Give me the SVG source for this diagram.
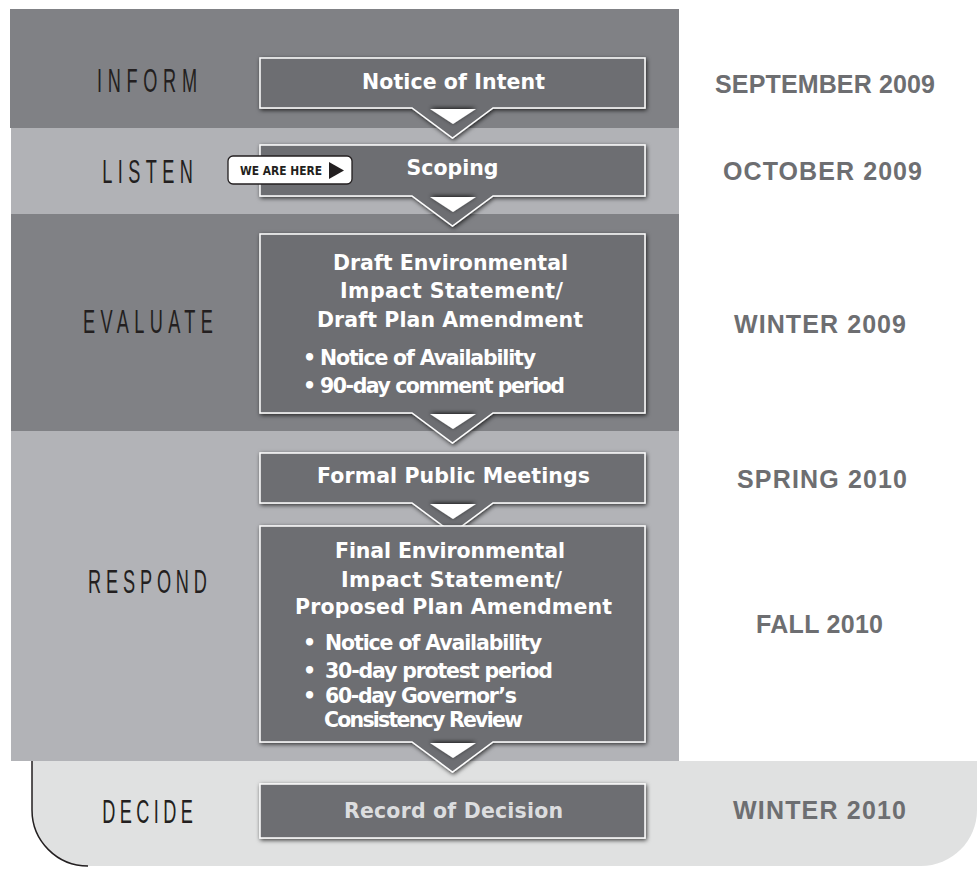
<svg xmlns="http://www.w3.org/2000/svg" width="980" height="869" viewBox="0 0 980 869">
<defs>
<filter id="sh" x="-10%" y="-20%" width="120%" height="140%">
<feDropShadow dx="1" dy="1.5" stdDeviation="2" flood-color="#000" flood-opacity="0.75"/>
</filter>
<filter id="sh2" x="-30%" y="-60%" width="160%" height="220%">
<feDropShadow dx="0" dy="-1" stdDeviation="2" flood-color="#000" flood-opacity="0.8"/>
</filter>
<style>
.stage{font-family:"Liberation Sans",Arial,sans-serif;font-size:33px;fill:#231f20;}
.date{font-family:"Liberation Sans",Arial,sans-serif;font-weight:bold;font-size:25px;fill:#6d6e71;text-anchor:middle;}
.box{fill:#6d6e72;stroke:#fff;stroke-width:1.5;filter:url(#sh);}
.t{font-family:"DejaVu Sans","Liberation Sans",sans-serif;font-weight:bold;font-size:20.5px;fill:#fff;}
.m{text-anchor:middle;}
.tri{fill:#fff;filter:url(#sh2);}
</style>
</defs>
<rect width="980" height="869" fill="#fff"/>
<!-- bands -->
<rect x="10" y="9" width="669" height="119" fill="#808185"/>
<rect x="11" y="128" width="668" height="86" fill="#b1b2b6"/>
<rect x="11" y="214" width="668" height="217" fill="#808185"/>
<rect x="11" y="431" width="668" height="330" fill="#b2b3b7"/>
<path d="M32,761 H977 V810 A56,56 0 0 1 921,866 H88 A56,56 0 0 1 32,810 Z" fill="#e0e1e1"/>
<path d="M32,761 V810 A56,56 0 0 0 88,866" fill="none" stroke="#231f20" stroke-width="1.5"/>
<!-- stage labels -->
<text class="stage" transform="translate(147,92) scale(0.55,1)" text-anchor="middle" textLength="182" lengthAdjust="spacing">INFORM</text>
<text class="stage" transform="translate(147.5,183) scale(0.55,1)" text-anchor="middle" textLength="165" lengthAdjust="spacing">LISTEN</text>
<text class="stage" transform="translate(148,333) scale(0.55,1)" text-anchor="middle" textLength="236" lengthAdjust="spacing">EVALUATE</text>
<text class="stage" transform="translate(147.5,593) scale(0.55,1)" text-anchor="middle" textLength="216" lengthAdjust="spacing">RESPOND</text>
<text class="stage" transform="translate(147.5,823) scale(0.55,1)" text-anchor="middle" textLength="165" lengthAdjust="spacing">DECIDE</text>
<!-- dates -->
<text class="date" x="825" y="93" textLength="220" lengthAdjust="spacing">SEPTEMBER 2009</text>
<text class="date" x="822.5" y="180" textLength="199" lengthAdjust="spacing">OCTOBER 2009</text>
<text class="date" x="820" y="333" textLength="172" lengthAdjust="spacing">WINTER 2009</text>
<text class="date" x="822" y="488" textLength="170" lengthAdjust="spacing">SPRING 2010</text>
<text class="date" x="819.5" y="633" textLength="127" lengthAdjust="spacing">FALL 2010</text>
<text class="date" x="819.5" y="819" textLength="173" lengthAdjust="spacing">WINTER 2010</text>
<!-- nodes -->
<g id="notice-of-intent">
<path class="box" d="M260,58 H645 V108 H493 L452.5,138 L412,108 H260 Z"/>
<text class="t m" x="453.5" y="89" textLength="183" lengthAdjust="spacing">Notice of Intent</text>
</g>
<g id="scoping">
<path class="box" d="M260,145 H645 V196 H493 L452.5,226 L412,196 H260 Z"/>
<text class="t m" x="452.5" y="175" textLength="92" lengthAdjust="spacing">Scoping</text>
</g>
<g id="draft-eis">
<path class="box" d="M260,234 H645 V413 H493 L452.5,443 L412,413 H260 Z"/>
<text class="t m" x="450.5" y="270" textLength="235" lengthAdjust="spacing">Draft Environmental</text>
<text class="t m" x="451.5" y="298" textLength="223" lengthAdjust="spacing">Impact Statement/</text>
<text class="t m" x="450" y="327" textLength="266" lengthAdjust="spacing">Draft Plan Amendment</text>
<text class="t" x="303" y="365">•</text>
<text class="t" x="320" y="365" textLength="216" lengthAdjust="spacing">Notice of Availability</text>
<text class="t" x="303" y="393">•</text>
<text class="t" x="320" y="393" textLength="245" lengthAdjust="spacing">90-day comment period</text>
</g>
<g id="formal-public-meetings">
<path class="box" d="M260,453 H645 V503 H493 L452.5,533 L412,503 H260 Z"/>
<text class="t m" x="453.5" y="483" textLength="273" lengthAdjust="spacing">Formal Public Meetings</text>
</g>
<g id="final-eis">
<path class="box" d="M260,526 H645 V742 H493 L452.5,772 L412,742 H260 Z"/>
<text class="t m" x="450" y="558" textLength="230" lengthAdjust="spacing">Final Environmental</text>
<text class="t m" x="451.5" y="587" textLength="221" lengthAdjust="spacing">Impact Statement/</text>
<text class="t m" x="453.5" y="614" textLength="317" lengthAdjust="spacing">Proposed Plan Amendment</text>
<text class="t" x="303" y="650">•</text>
<text class="t" x="325" y="650" textLength="217" lengthAdjust="spacing">Notice of Availability</text>
<text class="t" x="303" y="678">•</text>
<text class="t" x="325" y="678" textLength="228" lengthAdjust="spacing">30-day protest period</text>
<text class="t" x="303" y="703">•</text>
<text class="t" x="325" y="703" textLength="192" lengthAdjust="spacing">60-day Governor’s</text>
<text class="t" x="324" y="727" textLength="199" lengthAdjust="spacing">Consistency Review</text>
</g>
<g id="record-of-decision">
<rect class="box" x="260" y="784" width="385" height="54"/>
<text class="t m" x="453.5" y="818" textLength="219" lengthAdjust="spacing" style="fill:#dcdddf">Record of Decision</text>
</g>
<!-- connectors -->
<g id="connectors">
<polygon class="tri" points="430,109 476,109 453,124"/>
<polygon class="tri" points="430,197 476,197 453,212"/>
<polygon class="tri" points="430,414 476,414 453,429"/>
<polygon class="tri" points="430,504 476,504 453,519"/>
<polygon class="tri" points="430,743 476,743 453,758"/>
</g>
<!-- badge -->
<g id="we-are-here">
<rect x="228" y="156" width="124" height="28" rx="5" fill="#fff" stroke="#231f20" stroke-width="1.3"/>
<text x="240" y="175" font-family="'DejaVu Sans','Liberation Sans',sans-serif" font-weight="bold" font-size="11.5" fill="#231f20" textLength="82" lengthAdjust="spacingAndGlyphs">WE ARE HERE</text>
<polygon points="329,162 344,170.5 329,179" fill="#231f20"/>
</g>
</svg>
